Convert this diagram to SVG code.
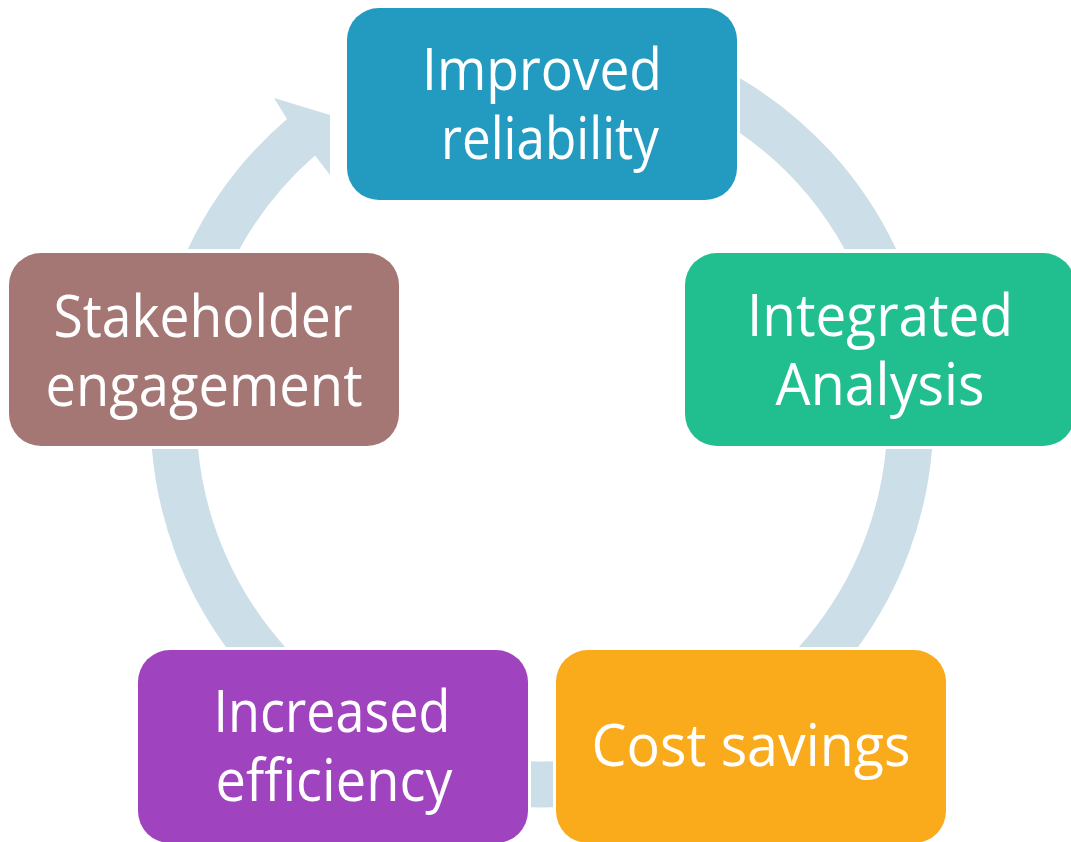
<svg xmlns="http://www.w3.org/2000/svg" width="1071" height="842" viewBox="0 0 1071 842">
  <style>
    .arc { fill: #CCDEE8; stroke: none; }
    .box { stroke: none; }
    .lbl { font-family: "Open Sans", "Noto Sans", "Liberation Sans", sans-serif; font-size: 58px; fill: #FFFFFF; text-anchor: middle; }
  </style>
  <rect width="1071" height="842" fill="#FFFFFF"/>
  <g id="connectors">
    <path class="arc" d="M 187.9,249 A 391.5 391.5 0 0 1 287,118.9 L 274,98 L 330,115 L 330,175 L 315,155.5 A 345.5 345.5 0 0 0 239.5,249 Z"/>
    <path class="arc" d="M 740,78.3 A 391.5 391.5 0 0 1 896.1,249 L 844.5,249 A 345.5 345.5 0 0 0 740,132.9 Z"/>
    <path class="arc" d="M 932.1,449 A 391.5 391.5 0 0 1 858.1,647 L 798.9,647 A 345.5 345.5 0 0 0 885.9,449 Z"/>
    <path class="arc" d="M 553,807.3 A 391.5 391.5 0 0 1 531,807.3 L 531,761.3 A 345.5 345.5 0 0 0 553,761.3 Z"/>
    <path class="arc" d="M 225.9,647 A 391.5 391.5 0 0 1 151.9,449 L 198.1,449 A 345.5 345.5 0 0 0 285.1,647 Z"/>
  </g>
  <g id="node-improved-reliability">
    <rect class="box" x="347" y="8" width="390" height="192" rx="32" fill="#239ABF"/>
    <text class="lbl" x="542" y="90" textLength="240" lengthAdjust="spacingAndGlyphs">Improved</text>
    <text class="lbl" x="550" y="159" textLength="218" lengthAdjust="spacingAndGlyphs">reliability</text>
  </g>
  <g id="node-integrated-analysis">
    <rect class="box" x="685" y="253" width="390" height="193" rx="32" fill="#21BF90"/>
    <text class="lbl" x="880" y="336" textLength="266" lengthAdjust="spacingAndGlyphs">Integrated</text>
    <text class="lbl" x="880" y="405" textLength="209" lengthAdjust="spacingAndGlyphs">Analysis</text>
  </g>
  <g id="node-cost-savings">
    <rect class="box" x="556" y="650" width="390" height="193" rx="32" fill="#F9AB1C"/>
    <text class="lbl" x="751" y="766" textLength="319" lengthAdjust="spacingAndGlyphs">Cost savings</text>
  </g>
  <g id="node-increased-efficiency">
    <rect class="box" x="138" y="650" width="390" height="193" rx="32" fill="#A043BE"/>
    <text class="lbl" x="332" y="732" textLength="237" lengthAdjust="spacingAndGlyphs">Increased</text>
    <text class="lbl" x="334" y="801" textLength="237" lengthAdjust="spacingAndGlyphs">efficiency</text>
  </g>
  <g id="node-stakeholder-engagement">
    <rect class="box" x="9" y="253" width="390" height="193" rx="32" fill="#A57774"/>
    <text class="lbl" x="203" y="337" textLength="299" lengthAdjust="spacingAndGlyphs">Stakeholder</text>
    <text class="lbl" x="204" y="406" textLength="317" lengthAdjust="spacingAndGlyphs">engagement</text>
  </g>
</svg>
